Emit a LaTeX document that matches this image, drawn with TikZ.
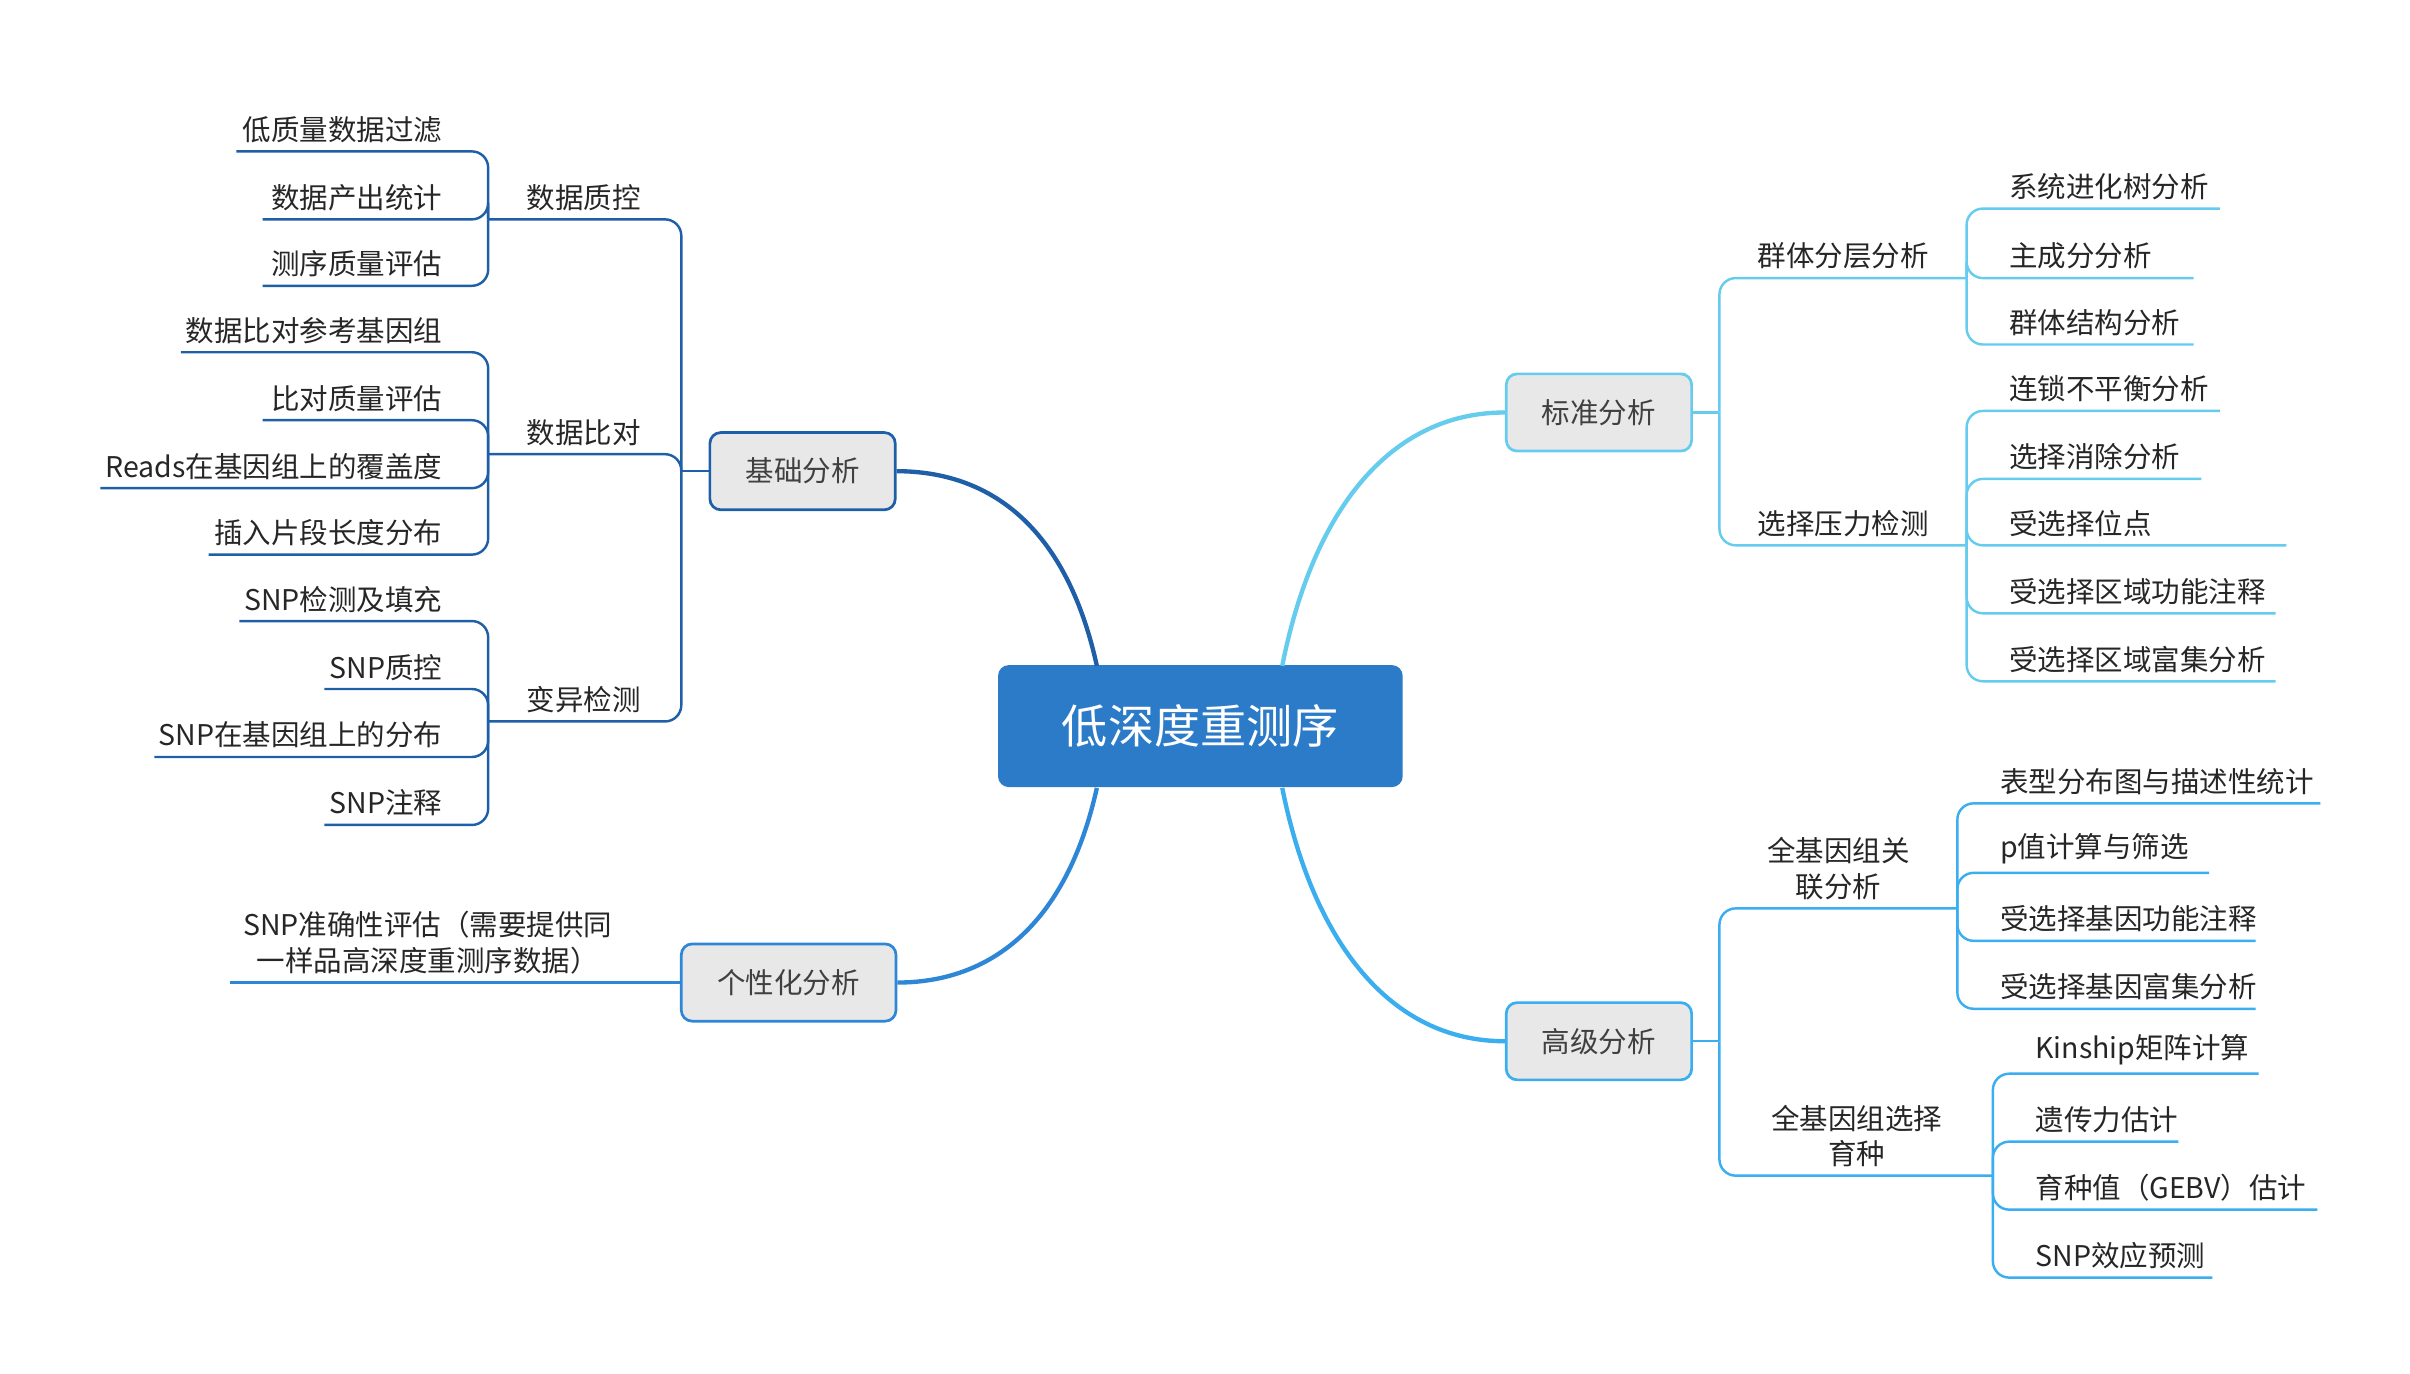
\documentclass[tikz,border=0pt]{standalone}
\usepackage{fontspec}
\setmainfont{Noto Sans CJK SC}
\usetikzlibrary{positioning}
\definecolor{titleblue}{HTML}{2B7BC8}
\definecolor{darkline}{HTML}{1F5FA8}
\definecolor{midline}{HTML}{2E86D6}
\definecolor{cyanline}{HTML}{66CCEE}
\definecolor{skyline}{HTML}{3AAEEE}
\definecolor{boxgray}{HTML}{E8E8E8}
\tikzset{
  topic/.style={draw,fill=boxgray,rounded corners=4pt,line width=1pt,text=black!75,
    minimum width=2.4cm,minimum height=1cm,font=\fontsize{10.5}{13}\selectfont},
  leafl/.style={anchor=south east,inner sep=3pt,font=\fontsize{10.5}{13}\selectfont,text=black!85},
  leafr/.style={anchor=south west,inner sep=3pt,font=\fontsize{10.5}{13}\selectfont,text=black!85},
  sub/.style={anchor=south,inner sep=3pt,font=\fontsize{10.5}{13}\selectfont,text=black!85,align=center},
  wire/.style={line width=0.9pt,rounded corners=6pt}
}
\begin{document}
\begin{tikzpicture}[x=0.02cm,y=-0.02cm]
  \useasboundingbox (0,0) rectangle (1560,889);
  % central topic
  \node[fill=titleblue,rounded corners=4pt,text=white,minimum width=5.24cm,minimum height=1.58cm,
    font=\fontsize{17}{20}\selectfont] (root) at (777,470) {低深度重测序};
  \node[topic,draw=darkline] (basic) at (519.5,305) {基础分析};
  \node[topic,draw=midline,minimum width=2.78cm] (pers) at (510.5,636) {个性化分析};
  \node[topic,draw=cyanline] (std) at (1035,267) {标准分析};
  \node[topic,draw=skyline] (adv) at (1035,674) {高级分析};
  \draw[line width=1.6pt,darkline] (710,431) .. controls (690,340) and (640,305) .. (basic.east);
  \draw[line width=1.6pt,midline] (710,510) .. controls (690,600) and (640,636) .. (pers.east);
  \draw[line width=1.6pt,cyanline] (830,431) .. controls (850,330) and (900,267) .. (std.west);
  \draw[line width=1.6pt,skyline] (830,510) .. controls (850,610) and (900,674) .. (adv.west);

  % left side
  \draw[wire,darkline] (basic.west) -- (441,305);
  \foreach \y/\t in {142/数据质控,294/数据比对,467/变异检测}{
    \draw[wire,darkline] (441,305) -- (441,\y) -- (316,\y);
    \node[sub] at (378,\y) {\t};
  }
  \foreach \x/\y/\p/\t in {153/98/142/低质量数据过滤,170/142/142/数据产出统计,170/185/142/测序质量评估,
      117/228/294/数据比对参考基因组,170/272/294/比对质量评估,65/316/294/Reads在基因组上的覆盖度,135/359/294/插入片段长度分布,
      155/402/467/SNP检测及填充,210/446/467/SNP质控,100/490/467/SNP在基因组上的分布,210/534/467/SNP注释}{
    \draw[wire,darkline] (316,\p) -- (316,\y) -- (\x,\y);
    \node[leafl] at (292,\y) {\t};
  }
  \draw[line width=0.9pt,midline] (pers.west) -- (149,636);
  \node[sub] (persleaf) at (277,636) {SNP准确性评估（需要提供同\\一样品高深度重测序数据）};

  % right side, standard
  \draw[wire,cyanline] (std.east) -- (1113,267);
  \foreach \y/\t in {180/群体分层分析,353/选择压力检测}{
    \draw[wire,cyanline] (1113,267) -- (1113,\y) -- (1273,\y);
    \node[sub] at (1193,\y) {\t};
  }
  \foreach \x/\y/\p/\t in {1437/135/180/系统进化树分析,1420/180/180/主成分分析,1420/223/180/群体结构分析,
      1437/266/353/连锁不平衡分析,1425/310/353/选择消除分析,1480/353/353/受选择位点/区域定位,
      1473/397/353/受选择区域功能注释,1473/441/353/受选择区域富集分析}{
    \draw[wire,cyanline] (1273,\p) -- (1273,\y) -- (\x,\y);
    \node[leafr] at (1295,\y) {\t};
  }

  % right side, advanced
  \draw[wire,skyline] (adv.east) -- (1113,674);
  \draw[wire,skyline] (1113,674) -- (1113,588) -- (1267,588);
  \node[sub] (gwas) at (1190,588) {全基因组关\\联分析};
  \draw[wire,skyline] (1113,674) -- (1113,761) -- (1290,761);
  \node[sub] (gs) at (1202,761) {全基因组选择\\育种};
  \foreach \x/\y/\t in {1502/520/表型分布图与描述性统计,1430/565/p值计算与筛选,1460/609/受选择基因功能注释,1460/653/受选择基因富集分析}{
    \draw[wire,skyline] (1267,588) -- (1267,\y) -- (\x,\y);
    \node[leafr] at (1289,\y) {\t};
  }
  \foreach \x/\y/\t in {1462/695/Kinship矩阵计算,1410/739/遗传力估计,1500/783/育种值（GEBV）估计,1432/827/SNP效应预测}{
    \draw[wire,skyline] (1290,761) -- (1290,\y) -- (\x,\y);
    \node[leafr] at (1312,\y) {\t};
  }
\end{tikzpicture}
\end{document}
